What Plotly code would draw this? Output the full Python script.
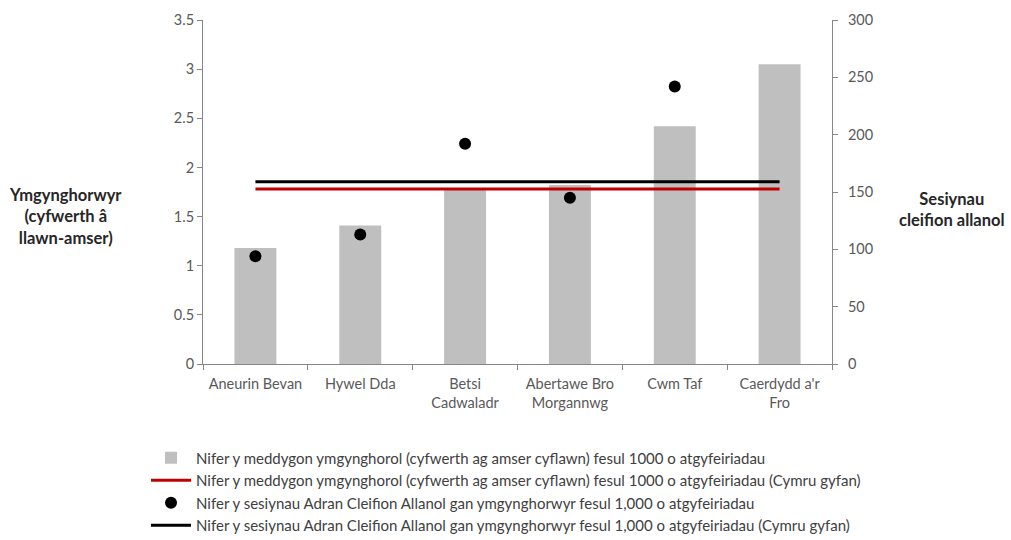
import plotly.graph_objects as go

categories = ["Aneurin Bevan", "Hywel Dda", "Betsi Cadwaladr", "Abertawe Bro Morgannwg", "Cwm Taf", "Caerdydd a'r Fro"]
tick_labels = ["Aneurin Bevan", "Hywel Dda", "Betsi<br>Cadwaladr", "Abertawe Bro<br>Morgannwg", "Cwm Taf", "Caerdydd a'r<br>Fro"]
consultants_per_1000 = [1.18, 1.41, 1.78, 1.82, 2.42, 3.05]
wales_consultants = 1.78
sessions_per_1000 = [94, 113, 192, 145, 242, None]
wales_sessions = 159

names = [
    "Nifer y meddygon ymgynghorol (cyfwerth ag amser cyflawn) fesul 1000 o atgyfeiriadau",
    "Nifer y meddygon ymgynghorol (cyfwerth ag amser cyflawn) fesul 1000 o atgyfeiriadau (Cymru gyfan)",
    "Nifer y sesiynau Adran Cleifion Allanol gan ymgynghorwyr fesul 1,000 o atgyfeiriadau",
    "Nifer y sesiynau Adran Cleifion Allanol gan ymgynghorwyr fesul 1,000 o atgyfeiriadau (Cymru gyfan)",
]

FONT = "Lato"
TXT = "#404040"

fig = go.Figure()
fig.add_trace(go.Bar(x=categories, y=consultants_per_1000, name=names[0],
                     marker=dict(color="#bfbfbf", line=dict(width=0)), width=0.4))
fig.add_trace(go.Scatter(x=categories, y=[wales_consultants] * len(categories), name=names[1],
                         mode="lines", line=dict(color="#c00000", width=3)))
fig.add_trace(go.Scatter(x=categories, y=sessions_per_1000, name=names[2], yaxis="y2",
                         mode="markers", marker=dict(color="black", size=12)))
fig.add_trace(go.Scatter(x=categories, y=[wales_sessions] * len(categories), name=names[3], yaxis="y2",
                         mode="lines", line=dict(color="black", width=3)))

axis_common = dict(showgrid=False, zeroline=False, showline=True, linecolor="#868686", linewidth=1,
                   ticks="outside", ticklen=5, tickcolor="#868686",
                   tickfont=dict(family=FONT, size=14.5, color="#595959"))

fig.update_layout(
    width=1011, height=540,
    paper_bgcolor="white", plot_bgcolor="white",
    margin=dict(l=203, r=179, t=20, b=176, autoexpand=False),
    font=dict(family=FONT, color=TXT),
    bargap=0.6,
    xaxis=dict(**axis_common, type="category", tickson="boundaries", tickangle=0,
               ticklabelstandoff=7,
               tickvals=categories, ticktext=tick_labels, range=[-0.5, 5.5]),
    yaxis=dict(**axis_common, range=[0, 3.5], dtick=0.5, tickformat="~g"),
    yaxis2=dict(**axis_common, overlaying="y", side="right", range=[0, 300], dtick=50, anchor="x",
                ticklabelstandoff=7),
    legend=dict(orientation="v", x=-0.0906, y=-0.225, xanchor="left", yanchor="top",
                font=dict(family=FONT, size=15, color=TXT), tracegroupgap=0,
                itemwidth=40, bgcolor="rgba(0,0,0,0)"),
    showlegend=True,
    annotations=[
        dict(text="<b>Ymgynghorwyr<br>(cyfwerth â<br>llawn-amser)</b>", xref="paper", yref="paper",
             x=-0.219, y=0.43, xanchor="center", yanchor="middle", showarrow=False,
             font=dict(family=FONT, size=16.5, color="#262626"), align="center"),
        dict(text="<b>Sesiynau<br>cleifion allanol</b>", xref="paper", yref="paper",
             x=1.19, y=0.45, xanchor="center", yanchor="middle", showarrow=False,
             font=dict(family=FONT, size=16.5, color="#262626"), align="center"),
    ],
)

fig.write_html("out.html", config={"displayModeBar": False},
               post_script="document.body.style.margin='0';")
